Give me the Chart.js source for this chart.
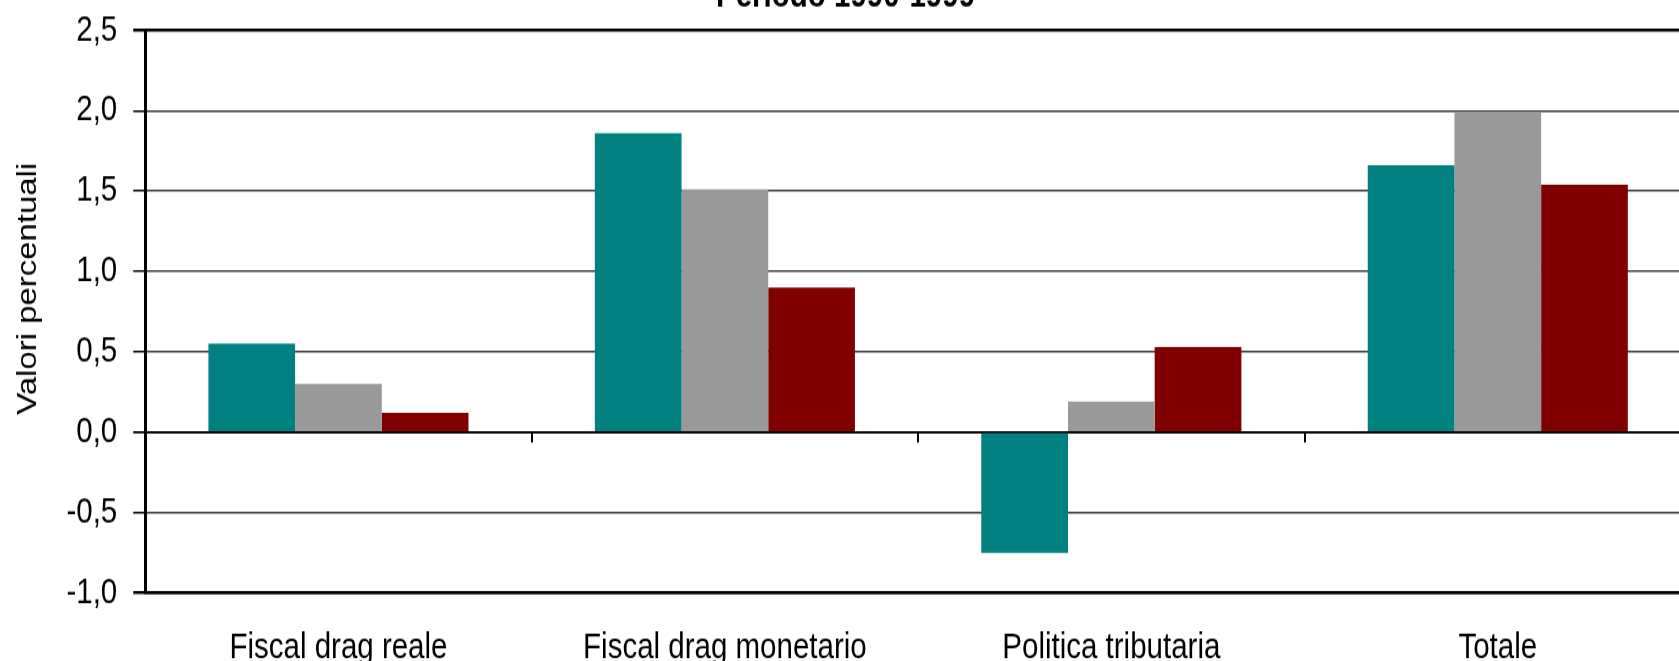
<!DOCTYPE html>
<html>
<head>
<meta charset="utf-8">
<script src="https://cdn.jsdelivr.net/npm/chart.js@4.4.0/dist/chart.umd.min.js"></script>
<style>
  html, body { margin: 0; padding: 0; background: #fff; overflow: hidden; }
  #wrap { position: relative; width: 1679px; height: 661px; overflow: hidden; }
  /* the original chart is stretched vertically (narrow-looking text) */
  #stretch { position: absolute; left: 0; top: -30px; transform: scale(1, 1.22); transform-origin: 0 0; }
</style>
</head>
<body>
<div id="wrap"><div id="stretch"><canvas id="chart" width="1700" height="604"></canvas></div></div>
<script>
var categories = ["Fiscal drag reale", "Fiscal drag monetario", "Politica tributaria", "Totale"];
var serieA = [0.55, 1.86, -0.75, 1.66];
var serieB = [0.30, 1.51, 0.19, 1.99];
var serieC = [0.12, 0.90, 0.53, 1.54];
var yTickLabels = ["-1,0", "-0,5", "0,0", "0,5", "1,0", "1,5", "2,0", "2,5"];

var arial = "'Liberation Sans', Arial, Helvetica, sans-serif";

function gridColor(ctx) {
  var v = ctx.tick ? ctx.tick.value : null;
  if (v === 2.5 || v === -1 || v === 0) return "#000";
  return "#3a3a3a";
}
function gridWidth(ctx) {
  var v = ctx.tick ? ctx.tick.value : null;
  if (v === 2.5 || v === -1) return 2.5;
  if (v === 0) return 1.8;
  return 1.5;
}

var ctx = document.getElementById("chart").getContext("2d");
new Chart(ctx, {
  type: "bar",
  data: {
    labels: categories,
    datasets: [
      { label: "A", data: serieA, backgroundColor: "#008080" },
      { label: "B", data: serieB, backgroundColor: "#999999" },
      { label: "C", data: serieC, backgroundColor: "#800000" },
    ],
  },
  options: {
    responsive: false,
    animation: false,
    devicePixelRatio: 1,
    categoryPercentage: 0.673,
    barPercentage: 1.0,
    layout: { padding: { left: 0, right: 9, top: 0, bottom: 2.6 } },
    plugins: {
      legend: { display: false },
      tooltip: { enabled: false },
      title: {
        display: true,
        text: "Periodo 1990-1999",
        color: "#000",
        font: { family: arial, size: 29.5, weight: "bold" },
        padding: { top: 4, bottom: 10 },
      },
    },
    scales: {
      x: {
        position: "bottom",
        offset: true,
        grid: { display: false, drawTicks: false },
        border: { display: true, color: "#000", width: 2.5 },
        ticks: { color: "#000", padding: 27.7, font: { family: arial, size: 29.5 } },
      },
      xZero: {
        type: "category",
        axis: "x",
        position: { y: 0 },
        offset: true,
        grid: { offset: true, drawOnChartArea: false, tickLength: 7.5, color: "#000", lineWidth: 2 },
        border: { display: true, color: "#000", width: 1.8 },
        ticks: { display: false },
      },
      y: {
        min: -1,
        max: 2.5,
        ticks: {
          stepSize: 0.5,
          color: "#000",
          padding: 16,
          font: { family: arial, size: 29.5 },
          callback: function (value, index) { return yTickLabels[index]; },
        },
        grid: { color: gridColor, lineWidth: gridWidth, tickColor: "#000", tickLength: 12 },
        border: { display: true, color: "#000", width: 3 },
        title: {
          display: true,
          text: "     Valori percentuali",
          color: "#000",
          font: { family: arial, size: 27 },
          padding: { top: 12, bottom: 6 },
        },
      },
    },
  },
});
</script>
</body>
</html>
